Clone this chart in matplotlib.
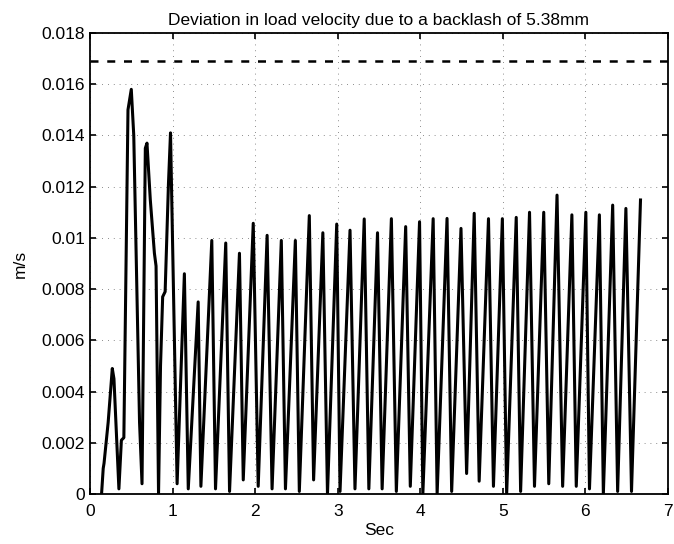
import matplotlib
matplotlib.use("Agg")
import matplotlib.pyplot as plt

# keypoints (peaks / troughs)
t_pts = [0.14, 0.16, 0.17, 0.22, 0.27, 0.29, 0.35, 0.38, 0.41, 0.46, 0.50, 0.53,
         0.60, 0.63, 0.67, 0.69, 0.73, 0.78, 0.80, 0.83, 0.854, 0.88, 0.91, 0.95,
         0.975, 1.055, 1.143, 1.19, 1.31, 1.343, 1.475, 1.52, 1.644, 1.69, 1.81,
         1.856, 1.977, 2.037, 2.145, 2.205, 2.317, 2.367, 2.487, 2.535, 2.656,
         2.708, 2.82, 2.876, 2.988, 3.028, 3.149, 3.209, 3.321, 3.377, 3.482,
         3.538, 3.65, 3.71, 3.823, 3.879, 3.991, 4.031, 4.156, 4.204, 4.324,
         4.38, 4.493, 4.561, 4.653, 4.713, 4.826, 4.886, 4.994, 5.046, 5.162,
         5.215, 5.323, 5.383, 5.495, 5.556, 5.656, 5.724, 5.836, 5.889, 6.005,
         6.049, 6.169, 6.217, 6.33, 6.39, 6.49, 6.558, 6.667]
v_pts = [0.0, 0.0010, 0.0012, 0.0028, 0.0049, 0.0045, 0.0002, 0.0021, 0.0022,
         0.0150, 0.0158, 0.0140, 0.0028, 0.0004, 0.0135, 0.0137, 0.0115, 0.0094,
         0.0089, 0.0, 0.0050, 0.0077, 0.0079, 0.0121, 0.0141, 0.0004, 0.0086,
         0.0002, 0.0075, 0.0003, 0.0099, 0.0002, 0.0098, 0.0001, 0.0094, 0.00055,
         0.01057, 0.0003, 0.0101, 0.0002, 0.0099, 0.0002, 0.0099, 0.0001, 0.01087,
         0.00055, 0.0102, 0.0, 0.01054, 0.0001, 0.0103, 0.0002, 0.01074, 0.0002,
         0.0102, 0.0002, 0.01075, 0.0001, 0.01044, 0.0003, 0.01063, 0.0, 0.01075,
         0.0, 0.01076, 0.0001, 0.01037, 0.0008, 0.01096, 0.0005, 0.01075, 0.0003,
         0.01075, 0.0, 0.0108, 0.0001, 0.0110, 0.0003, 0.0110, 0.0004, 0.01167,
         0.0003, 0.0109, 0.0003, 0.0110, 0.0002, 0.0109, 0.0, 0.01128, 0.0001,
         0.01115, 0.0001, 0.01148]
threshold = 0.0169
x_ticks = [0, 1, 2, 3, 4, 5, 6, 7]
y_ticks = [0, 0.002, 0.004, 0.006, 0.008, 0.01, 0.012, 0.014, 0.016, 0.018]
y_labels = ["0", "0.002", "0.004", "0.006", "0.008", "0.01", "0.012", "0.014", "0.016", "0.018"]

plt.rcParams['font.family'] = ['Liberation Sans', 'DejaVu Sans']

fig = plt.figure(figsize=(6.74, 5.44), dpi=100)
ax = fig.add_axes([90/674, 50/544, 578/674, 461/544])

ax.plot(t_pts, v_pts, color='black', linewidth=2.2)
ax.axhline(threshold, color='black', linewidth=1.8, linestyle=(0, (3.2, 3.5)))

ax.set_xlim(0, 7)
ax.set_ylim(0, 0.018)
ax.set_xticks(x_ticks)
ax.set_xticklabels([str(v) for v in x_ticks])
ax.set_yticks(y_ticks)
ax.set_yticklabels(y_labels)
ax.grid(True, color='black', linestyle=(0, (1, 6)), linewidth=0.6, alpha=0.6)
ax.tick_params(direction='in', length=4, width=1.2, top=True, right=True,
               labelsize=12.5)
ax.tick_params(axis='y', pad=3.5)
ax.tick_params(axis='x', pad=7)
for s in ax.spines.values():
    s.set_linewidth(1.3)

ax.set_title("Deviation in load velocity due to a backlash of 5.38mm", fontsize=12.5, pad=6)
ax.set_xlabel("Sec", fontsize=12.5, labelpad=3)
ax.set_ylabel("m/s", fontsize=12.5, labelpad=10)

fig.savefig("out.png", dpi=100)
